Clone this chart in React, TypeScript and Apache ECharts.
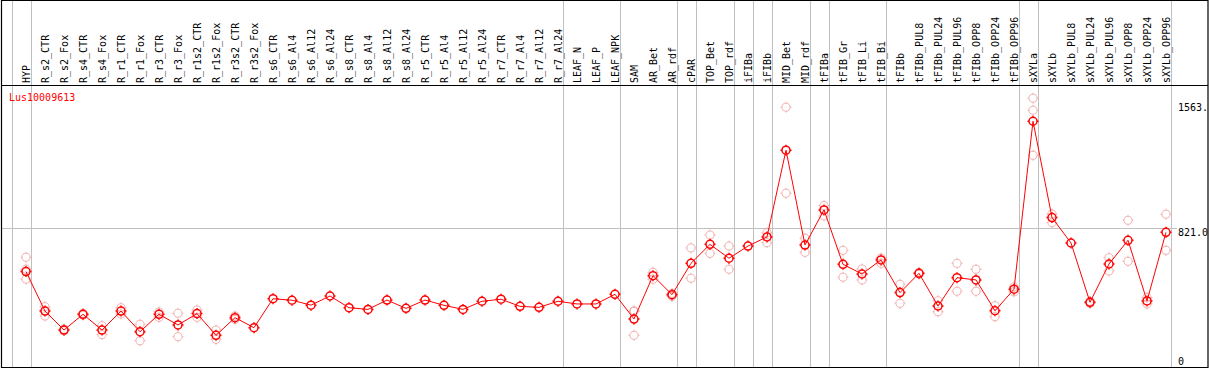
import React, { useEffect, useRef } from "react";
import * as echarts from "echarts";

const categories = [
  "HYP", "R_s2_CTR", "R_s2_Fox", "R_s4_CTR", "R_s4_Fox", "R_r1_CTR", "R_r1_Fox", "R_r3_CTR", "R_r3_Fox",
  "R_r1s2_CTR", "R_r1s2_Fox", "R_r3s2_CTR", "R_r3s2_Fox", "R_s6_CTR", "R_s6_Al4", "R_s6_Al12", "R_s6_Al24",
  "R_s8_CTR", "R_s8_Al4", "R_s8_Al12", "R_s8_Al24", "R_r5_CTR", "R_r5_Al4", "R_r5_Al12", "R_r5_Al24",
  "R_r7_CTR", "R_r7_Al4", "R_r7_Al12", "R_r7_Al24", "LEAF_N", "LEAF_P", "LEAF_NPK", "SAM", "AR_Bet", "AR_rdf",
  "cPAR", "TOP_Bet", "TOP_rdf", "iFIBa", "iFIBb", "MID_Bet", "MID_rdf", "tFIBa", "tFIB_Gr", "tFIB_Li", "tFIB_Bi",
  "tFIBb", "tFIBb_PUL8", "tFIBb_PUL24", "tFIBb_PUL96", "tFIBb_OPP8", "tFIBb_OPP24", "tFIBb_OPP96",
  "sXYLa", "sXYLb", "sXYLb_PUL8", "sXYLb_PUL24", "sXYLb_PUL96", "sXYLb_OPP8", "sXYLb_OPP24", "sXYLb_OPP96",
];

const means = [
  565, 332, 220, 313, 220, 332, 210, 313, 250, 317, 189, 293, 234, 405, 396, 367, 421,
  352, 342, 397, 348, 397, 366, 342, 390, 402, 360, 354, 390, 374, 374, 431, 285, 541, 429,
  614, 726, 644, 716, 770, 1282, 722, 929, 608, 551, 634, 441, 555, 362, 529, 516, 334, 461,
  1453, 884, 734, 384, 610, 750, 392, 797,
];

const repA: (number | null)[] = [
  650, 358, 225, 318, 246, 352, 254, 327, 319, 338, 220, 303, null, null, null, null, null,
  null, null, null, null, null, null, null, null, null, null, null, null, null, null, null, 333, 561, 436,
  705, 781, 716, null, 795, 1536, 762, 955, 691, 581, 645, 490, 560, 393, 614, 579, 364, 475,
  1589, 905, null, 390, 647, 868, 412, 904,
];

const repB: (number | null)[] = [
  521, 303, 215, 308, 193, 315, 157, 295, 181, 295, 165, 283, null, null, null, null, null,
  null, null, null, null, null, null, null, null, null, null, null, null, null, null, null, 189, 520, 420,
  526, 673, 579, null, 736, 1028, 679, 894, 532, 516, 614, 378, 550, 328, 449, 449, 299, 446,
  1252, 854, null, 378, 569, 626, 374, 691,
];

const repC: (number | null)[] = categories.map((c) =>
  c === "HYP" ? 579 : c === "SAM" ? 330 : c === "sXYLa" ? 1518 : null
);

const groupEnds = [-1, 0, 28, 31, 34, 35, 37, 38, 39, 41, 42, 45, 52, 53, 60];
const refValues = [1563, 821, 0];
const refLabels = ["1563.", "821.0", "0"];
const geneId = "Lus10009613";
const yMax = 1667;

const FONT = '10px "DejaVu Sans Mono", monospace';
const MARK =
  "path://M0,-4A4,4,0,1,1,0,4A4,4,0,1,1,0,-4ZM0,-5.5L0,-4M0,4L0,5.5M-5.5,0L-4,0M4,0L5.5,0";

export default function App() {
  const ref = useRef<HTMLDivElement>(null);
  useEffect(() => {
    const chart = echarts.init(ref.current!, null, { renderer: "svg" });
    const reps: any[] = [];
    [repA, repB, repC].forEach((arr) =>
      arr.forEach((v, i) => {
        if (v != null) reps.push([i, v]);
      })
    );
    chart.setOption({
      animation: false,
      grid: { left: 16.5, right: 33.5, top: 85, bottom: 2.7, containLabel: false },
      xAxis: {
        type: "category",
        position: "top",
        data: categories,
        boundaryGap: true,
        axisLine: { show: false },
        axisTick: { show: false },
        splitLine: { show: false },
        axisLabel: {
          interval: 0,
          rotate: 90,
          margin: 2,
          color: "#000",
          fontFamily: '"DejaVu Sans Mono", monospace',
          fontSize: 10,
        },
      },
      yAxis: {
        type: "value",
        min: 0,
        max: yMax,
        show: false,
        splitLine: { show: false },
      },
      series: [
        {
          type: "scatter",
          data: reps,
          symbol: MARK,
          symbolSize: 11,
          itemStyle: { color: "rgba(0,0,0,0)", borderColor: "#f0a0a0", borderWidth: 1 },
          z: 4,
        },
        {
          type: "line",
          data: means,
          symbol: MARK,
          symbolSize: 11,
          showAllSymbol: true,
          lineStyle: { color: "#ff0000", width: 1 },
          itemStyle: { color: "rgba(0,0,0,0)", borderColor: "#ff0000", borderWidth: 1.5 },
          z: 5,
        },
      ],
    });

    const xOf = (i: number) => chart.convertToPixel({ xAxisIndex: 0 }, i) as number;
    const c0 = xOf(0);
    const step = xOf(1) - c0;
    const yOf = (v: number) => chart.convertToPixel({ yAxisIndex: 0 }, v) as number;
    const yRef = Math.round(yOf(821)) + 0.5;

    const elements: any[] = [];
    groupEnds.forEach((i) => {
      const x = Math.round(c0 + step * (i + 0.25)) + 0.5;
      elements.push({
        type: "line",
        z: 0,
        shape: { x1: x, y1: 0, x2: x, y2: 368 },
        style: { stroke: "#c0c0c0", lineWidth: 1 },
      });
    });
    elements.push({
      type: "line",
      z: 0,
      shape: { x1: 1, y1: yRef, x2: 1177, y2: yRef },
      style: { stroke: "#c0c0c0", lineWidth: 1 },
    });
    refValues.forEach((v, k) => {
      const y = Math.min(yOf(v), 356);
      elements.push({
        type: "text",
        z: 50,
        x: 1178,
        y: k === 2 ? y : y - 0.5,
        style: { text: refLabels[k], fill: "#000", font: FONT, verticalAlign: "top", align: "left" },
      });
    });
    elements.push({
      type: "text",
      z: 50,
      x: 9,
      y: 97,
      style: { text: geneId, fill: "#ff0000", font: FONT, verticalAlign: "middle", align: "left" },
    });
    elements.push({
      type: "line",
      z: 100,
      shape: { x1: 1, y1: 85.5, x2: 1208, y2: 85.5 },
      style: { stroke: "#000", lineWidth: 1 },
    });
    elements.push({
      type: "rect",
      z: 100,
      shape: { x: 1.5, y: 0.5, width: 1206.5, height: 367 },
      style: { fill: "none", stroke: "#000", lineWidth: 1.2 },
    });
    chart.setOption({ graphic: { elements } });

    return () => chart.dispose();
  }, []);
  return (
    <div
      ref={ref}
      style={{ position: "absolute", left: 0, top: 0, width: 1209, height: 370, background: "#fff" }}
    />
  );
}
